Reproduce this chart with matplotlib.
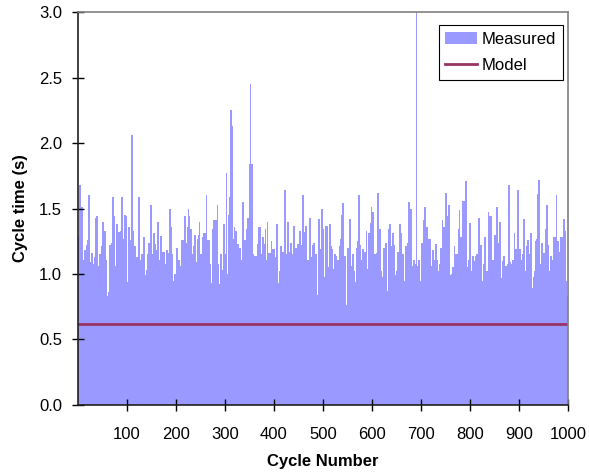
import matplotlib
matplotlib.use("Agg")
import matplotlib.pyplot as plt
from matplotlib.patches import Patch
from matplotlib.lines import Line2D
import numpy as np

plt.rcParams['font.family'] = ['Liberation Sans', 'DejaVu Sans']

# measured cycle times left to right (about 2 cycles per value)
cycle_time = [
    1.29, 1.68, 1.68, 1.51, 1.51, 1.11, 1.18, 1.18, 1.22, 1.26, 1.60, 1.60, 1.09, 1.16, 1.16,
    1.08, 1.13, 1.43, 1.44, 1.44, 1.06, 1.15, 1.15, 1.21, 1.40, 1.40, 1.33, 1.33, 1.11, 0.83,
    0.86, 1.22, 1.22, 1.24, 1.59, 1.59, 1.44, 1.06, 1.38, 1.38, 1.32, 1.32, 1.33, 1.59, 1.59,
    1.27, 1.45, 1.45, 1.44, 0.94, 1.36, 1.36, 1.26, 2.06, 2.06, 1.33, 1.21, 1.21, 1.13, 1.13,
    1.59, 1.59, 1.11, 1.15, 1.15, 1.28, 1.28, 0.99, 1.03, 1.15, 1.24, 1.24, 1.53, 1.53, 1.15,
    1.31, 1.31, 1.23, 1.18, 1.40, 1.40, 1.11, 1.29, 1.29, 1.17, 1.17,
    1.08, 1.18, 1.18, 1.16, 1.50, 1.50, 1.36, 1.15, 0.95, 1.00, 1.00, 1.20, 1.20, 1.11, 1.11,
    1.06, 1.26, 1.26, 1.26, 1.44, 1.44, 1.24, 1.36, 1.50, 1.44, 1.34, 1.34, 1.15, 1.21, 1.30,
    1.30, 1.09, 1.27, 1.30, 1.40, 1.15, 1.15, 1.28, 1.31, 1.31, 1.31, 1.60, 1.26, 1.26, 1.26,
    1.08, 0.93, 1.34, 1.41, 1.41, 1.41, 1.41, 1.53, 1.08, 0.92, 1.15, 1.15, 1.03, 1.38, 1.38,
    1.15, 1.77, 1.00, 1.45, 1.59, 2.25, 2.25, 2.13, 1.27, 1.36, 1.33, 1.33, 1.23, 1.23, 1.20,
    1.20, 1.11, 1.55, 1.55, 1.26, 1.26, 1.34, 1.43, 1.43, 1.84, 2.45, 1.84, 1.84, 1.15, 1.14,
    1.14, 1.14, 1.23, 1.36, 1.36,
    1.36, 1.15, 1.28, 1.28, 1.23, 1.34, 1.11, 1.40, 1.16, 1.16, 1.16, 1.25, 1.19, 1.19, 1.19,
    1.13, 1.38, 1.38, 0.93, 1.02, 1.21, 1.21, 1.17, 1.17, 1.64, 1.64, 1.15, 1.40, 1.40, 1.17,
    1.24, 1.24, 1.15, 1.37, 1.37, 1.20, 1.20, 1.23, 1.23, 1.33, 1.33, 1.22, 1.60, 1.60, 1.32,
    1.37, 1.37, 1.11, 1.11, 1.43, 1.43, 1.13, 1.22, 1.24, 1.24, 1.15, 1.15, 0.84, 1.42, 1.42,
    1.19, 1.50, 1.50, 1.34, 0.98, 1.37, 1.37, 1.05, 1.38, 1.38, 1.21, 1.19, 1.04, 1.15, 1.15,
    1.14, 1.11, 1.11, 1.21, 1.27, 1.45, 1.54, 1.54, 1.14, 1.14, 0.76, 1.20, 1.20, 1.42, 1.42,
    1.06, 1.15, 1.15, 1.02, 0.94,
    1.20, 1.25, 1.60, 1.60, 1.22, 1.11, 1.19, 1.19, 1.17, 1.17, 1.33, 1.04, 1.31, 1.31, 1.39,
    1.51, 1.47, 1.47, 1.15, 1.15, 1.16, 1.62, 1.62, 1.34, 1.34, 1.02, 0.98, 1.20, 1.20, 1.24,
    1.24, 0.87, 1.34, 1.38, 1.38, 1.21, 1.31, 1.31, 1.22, 0.99, 1.02, 1.17, 1.17, 1.38, 1.38,
    1.31, 1.15, 1.15, 0.95, 1.21, 1.21, 1.24, 1.55, 1.55, 1.50, 1.50, 1.06, 1.11, 1.11, 1.08,
    3.00, 1.06, 1.11, 1.11, 0.95, 1.24, 1.24, 1.41, 1.51, 1.51, 1.36, 1.36, 1.27, 1.27, 1.27,
    1.06, 1.18, 1.18, 1.11, 1.23, 1.23, 1.11, 1.02, 1.08, 1.20, 1.20, 1.41, 1.36, 1.36, 1.62,
    1.62, 1.44, 1.53, 1.53,
    0.99, 1.00, 1.05, 1.05, 1.21, 1.15, 1.15, 1.15, 1.34, 1.49, 1.28, 1.28, 1.56, 1.56, 1.56,
    1.71, 1.71, 1.05, 1.11, 1.39, 1.39, 1.02, 1.14, 1.14, 1.10, 1.14, 1.15, 1.15, 1.43, 1.43,
    1.22, 1.22, 0.95, 1.08, 1.28, 1.28, 1.02, 1.02, 1.47, 1.44, 1.44, 1.11, 1.11, 1.30, 1.30,
    1.51, 1.51, 1.24, 1.40, 1.40, 0.97, 1.10, 1.14, 1.14, 1.06, 1.06, 1.08, 1.68, 1.68, 1.09,
    1.08, 1.11, 1.11, 1.31, 1.19, 1.19, 1.64, 1.64, 1.19, 1.19, 1.11, 1.15, 1.42, 1.42, 1.02,
    1.21, 1.26, 1.26, 1.15, 1.31, 1.31, 0.89, 0.98, 1.02, 1.25, 1.27, 1.61, 1.72, 1.72, 1.08,
    1.24, 1.24, 1.16, 1.16, 1.34, 1.53, 1.53, 1.22, 1.02, 1.14, 1.14, 1.11, 1.28, 1.28, 1.28,
    1.60, 1.25, 1.25, 1.17, 1.28, 1.28, 1.28, 1.42, 1.42, 1.33, 0.95, 0.83,
]
model_time = 0.62
n_cycles = 1000

x_ticks = [100, 200, 300, 400, 500, 600, 700, 800, 900, 1000]
y_ticks = [0.0, 0.5, 1.0, 1.5, 2.0, 2.5, 3.0]

bar_color = '#9999ff'
model_color = '#993366'


def main():
    fig = plt.figure(figsize=(5.89, 4.75), dpi=100)
    ax = fig.add_axes([0.1324, 0.1474, 0.8319, 0.8273])

    # one filled step outline, so neighbouring bars leave no white seams
    edges = np.linspace(0, n_cycles, len(cycle_time) + 1)
    ax.stairs(cycle_time, edges, fill=True, color=bar_color, linewidth=0)
    ax.axhline(model_time, color=model_color, linewidth=2)

    ax.set_xlim(0, n_cycles)
    ax.set_ylim(0, 3.0)
    ax.set_xticks(x_ticks)
    ax.set_xticklabels([str(t) for t in x_ticks])
    ax.set_yticks(y_ticks)
    ax.set_yticklabels([f"{t:.1f}" for t in y_ticks])
    ax.tick_params(direction='inout', length=9, width=1, labelsize=12,
                   colors='black')
    ax.tick_params(axis='x', pad=11)
    ax.tick_params(axis='y', pad=7)

    for side in ['left', 'bottom']:
        ax.spines[side].set_color('#202020')
        ax.spines[side].set_linewidth(1.2)
    for side in ['top', 'right']:
        ax.spines[side].set_color('#808080')
        ax.spines[side].set_linewidth(1.2)

    ax.set_xlabel("Cycle Number", fontsize=12, fontweight='bold', labelpad=9)
    ax.set_ylabel("Cycle time (s)", fontsize=12, fontweight='bold', labelpad=8)

    handles = [Patch(facecolor=bar_color, edgecolor='none'),
               Line2D([0], [0], color=model_color, linewidth=2)]
    leg = ax.legend(handles, ['Measured', 'Model'], loc='upper right',
                    bbox_to_anchor=(0.99, 0.967),
                    fontsize=12, frameon=True, fancybox=False,
                    borderaxespad=0, handlelength=1.9, handleheight=0.75,
                    handletextpad=0.3, labelspacing=0.68, borderpad=0.4)
    leg.get_frame().set_edgecolor('black')
    leg.get_frame().set_linewidth(0.8)
    leg.get_frame().set_alpha(1)

    fig.savefig("out.png", dpi=100)


if __name__ == "__main__":
    main()
